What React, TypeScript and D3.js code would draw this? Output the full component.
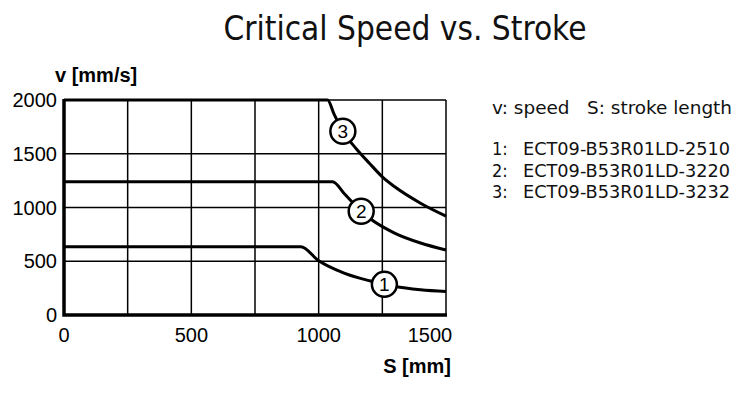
import React, { useEffect, useRef } from "react"
import * as d3 from "d3"

// curve data (stroke mm -> speed mm/s)
const stroke1 = [0, 930, 1000, 1100, 1200, 1258, 1300, 1400, 1500]
const speed1 = [635, 635, 505, 390, 318, 285, 265, 235, 218]
const stroke2 = [0, 1055, 1100, 1167, 1200, 1300, 1400, 1500]
const speed2 = [1240, 1240, 1130, 965, 900, 760, 670, 605]
const stroke3 = [0, 1035, 1060, 1095, 1150, 1200, 1250, 1300, 1400, 1500]
const speed3 = [2000, 2000, 1870, 1710, 1540, 1410, 1285, 1190, 1040, 920]

// marker positions of the circled numbers
const markerIds = ["1", "2", "3"]
const markerStroke = [1258, 1167, 1095]
const markerSpeed = [285, 965, 1710]

const xTicks = [0, 500, 1000, 1500]
const yTicks = [0, 500, 1000, 1500, 2000]
const xGrid = [0, 250, 500, 750, 1000, 1250, 1500]

const legendHead = "v: speed   S: stroke length"
const legendNums = ["1:", "2:", "3:"]
const legendCodes = ["ECT09-B53R01LD-2510", "ECT09-B53R01LD-3220", "ECT09-B53R01LD-3232"]

const condensed = "'DejaVu Sans Condensed', 'Liberation Sans Narrow', Arial, sans-serif"
const plain = "'Liberation Sans', Arial, sans-serif"

export default function App() {
  const svgRef = useRef<SVGSVGElement>(null)

  useEffect(() => {
    if (!svgRef.current) return
    const svg = d3.select(svgRef.current)
    svg.selectAll("*").remove()

    const left = 64
    const right = 446
    const top = 100
    const bottom = 315

    const x = d3.scaleLinear().domain([0, 1500]).range([left, right])
    const y = d3.scaleLinear().domain([0, 2000]).range([bottom, top])

    svg.append("rect").attr("width", 750).attr("height", 397).attr("fill", "#fff")

    // title
    svg
      .append("text")
      .attr("x", 405)
      .attr("y", 40)
      .attr("text-anchor", "middle")
      .attr("font-family", condensed)
      .attr("font-size", 33)
      .attr("textLength", 363)
      .attr("lengthAdjust", "spacingAndGlyphs")
      .attr("fill", "#111")
      .text("Critical Speed vs. Stroke")

    // grid
    svg
      .append("g")
      .selectAll("line")
      .data(xGrid)
      .enter()
      .append("line")
      .attr("x1", d => x(d))
      .attr("x2", d => x(d))
      .attr("y1", top)
      .attr("y2", bottom)
      .attr("stroke", "#000")
      .attr("stroke-width", 1.5)

    svg
      .append("g")
      .selectAll("line")
      .data(yTicks)
      .enter()
      .append("line")
      .attr("x1", left)
      .attr("x2", right)
      .attr("y1", d => y(d))
      .attr("y2", d => y(d))
      .attr("stroke", "#000")
      .attr("stroke-width", 1.5)

    // thick axes
    svg
      .append("path")
      .attr("d", `M${left},${top - 1}V${bottom}H${right + 1}`)
      .attr("fill", "none")
      .attr("stroke", "#000")
      .attr("stroke-width", 3.5)

    // curves
    const line = d3
      .line<[number, number]>()
      .x(d => x(d[0]))
      .y(d => y(d[1]))
      .curve(d3.curveMonotoneX)

    const series: [number[], number[]][] = [
      [stroke1, speed1],
      [stroke2, speed2],
      [stroke3, speed3],
    ]
    series.forEach(([xs, ys]) => {
      const pts = xs.map((s, i) => [s, ys[i]] as [number, number])
      svg
        .append("path")
        .attr("d", line(pts))
        .attr("fill", "none")
        .attr("stroke", "#000")
        .attr("stroke-width", 3)
    })

    // circled numbers
    const mk = svg
      .append("g")
      .selectAll("g")
      .data(markerIds)
      .enter()
      .append("g")
      .attr("transform", (d, i) => `translate(${x(markerStroke[i])},${y(markerSpeed[i])})`)
    mk.append("circle").attr("r", 12.5).attr("fill", "#fff").attr("stroke", "#000").attr("stroke-width", 2.5)
    mk
      .append("text")
      .attr("y", 7)
      .attr("text-anchor", "middle")
      .attr("font-family", plain)
      .attr("font-size", 19)
      .attr("fill", "#000")
      .text(d => d)

    // tick labels
    svg
      .append("g")
      .selectAll("text")
      .data(yTicks)
      .enter()
      .append("text")
      .attr("x", 57)
      .attr("y", d => y(d) + 7)
      .attr("text-anchor", "end")
      .attr("font-family", plain)
      .attr("font-size", 20)
      .attr("fill", "#000")
      .text(d => d)

    svg
      .append("g")
      .selectAll("text")
      .data(xTicks)
      .enter()
      .append("text")
      .attr("x", d => (d === 1500 ? x(d) - 16 : x(d)))
      .attr("y", 342)
      .attr("text-anchor", "middle")
      .attr("font-family", plain)
      .attr("font-size", 20)
      .attr("fill", "#000")
      .text(d => d)

    // axis titles
    svg
      .append("text")
      .attr("x", 55)
      .attr("y", 82)
      .attr("font-family", plain)
      .attr("font-weight", "bold")
      .attr("font-size", 20)
      .attr("fill", "#000")
      .text("v [mm/s]")

    svg
      .append("text")
      .attr("x", 451)
      .attr("y", 373)
      .attr("text-anchor", "end")
      .attr("font-family", plain)
      .attr("font-weight", "bold")
      .attr("font-size", 20)
      .attr("fill", "#000")
      .text("S [mm]")

    // legend
    const lg = svg.append("g").attr("font-family", condensed).attr("font-size", 18).attr("fill", "#111")
    lg.append("text")
      .attr("x", 492)
      .attr("y", 114)
      .attr("textLength", 240)
      .attr("lengthAdjust", "spacingAndGlyphs")
      .style("white-space", "pre")
      .text(legendHead)
    lg.selectAll(".num")
      .data(legendNums)
      .enter()
      .append("text")
      .attr("class", "num")
      .attr("x", 492)
      .attr("y", (d, i) => 155 + i * 21.5)
      .text(d => d)
    lg.selectAll(".code")
      .data(legendCodes)
      .enter()
      .append("text")
      .attr("class", "code")
      .attr("x", 523)
      .attr("y", (d, i) => 155 + i * 21.5)
      .attr("textLength", 207)
      .attr("lengthAdjust", "spacingAndGlyphs")
      .text(d => d)
  }, [])

  return (
    <div style={{ position: "absolute", left: 0, top: 0 }}>
      <svg ref={svgRef} width={750} height={397} style={{ display: "block" }}></svg>
    </div>
  )
}
